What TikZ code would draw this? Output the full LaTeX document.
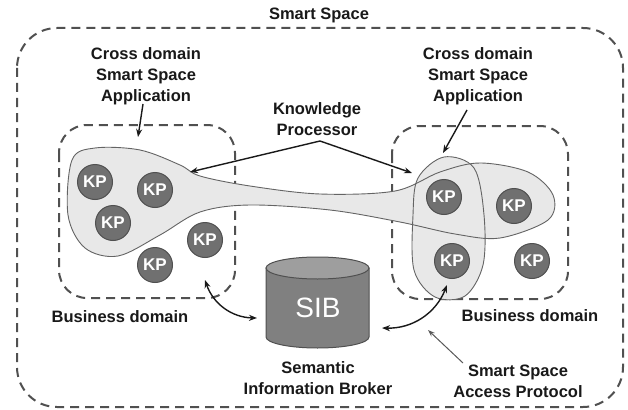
\documentclass[tikz,border=0pt]{standalone}
\usepackage{fontspec}
\setmainfont{Liberation Sans}
\usetikzlibrary{arrows.meta}
\definecolor{kpfill}{RGB}{112,112,112}
\definecolor{kpline}{RGB}{80,80,80}
\definecolor{blobfill}{RGB}{232,232,232}
\definecolor{blobline}{RGB}{100,100,100}
\definecolor{dashcol}{RGB}{80,80,80}
\definecolor{sibbody}{RGB}{128,128,128}
\definecolor{sibtop}{RGB}{158,158,158}
\definecolor{txt}{RGB}{25,25,25}
\begin{document}
\begin{tikzpicture}[x=1pt,y=-1pt,
  domainbox/.style={draw=dashcol,line width=2pt,dash pattern=on 9pt off 6pt,rounded corners=28pt},
  outerbox/.style={draw=dashcol,line width=2pt,dash pattern=on 9pt off 6pt,rounded corners=40pt},
  kp/.style={circle,fill=kpfill,draw=kpline,line width=1pt,minimum size=35pt,inner sep=0pt,text=white,font=\bfseries\fontsize{17}{17}\selectfont},
  lbl/.style={align=center,text=txt,font=\bfseries\fontsize{16.5}{21}\selectfont},
  arr/.style={line width=1.4pt,draw=txt,-{Stealth[length=8pt,width=6pt]}},
  darr/.style={line width=1.4pt,draw=txt,{Stealth[length=8pt,width=6pt]}-{Stealth[length=8pt,width=6pt]}},
  thinarr/.style={line width=1pt,draw=gray!70!black,-{Stealth[length=7pt,width=5pt]}},
  blob/.style={fill=blobfill},
  blobedge/.style={draw=blobline,line width=0.9pt}]
\useasboundingbox (0,0) rectangle (628,409);
\fill[white] (0,0) rectangle (628,409);

% outer smart space
\draw[outerbox] (17,28) rectangle (623,407);
\node[lbl] (title) at (319,15) {Smart Space};

% business domains
\draw[domainbox] (59,125) rectangle (235,298);
\draw[domainbox] (392,126) rectangle (568,299);

% application blobs (fill first, then edges)
\path[blob] plot[smooth cycle, tension=0.55] coordinates {(72,160) (95,148) (140,150) (180,165) (200,176) (250,186) (320,194) (395,191) (440,172) (480,163) (528,172) (553,195) (548,220) (500,238) (455,234) (400,222) (330,210) (250,205) (200,212) (160,235) (118,256) (85,248) (68,215)};
\path[blob] plot[smooth cycle, tension=0.55] coordinates {(444,157) (474,168) (484,215) (483,265) (465,296) (435,297) (414,270) (413,215) (418,178)};
\path[blobedge] plot[smooth cycle, tension=0.55] coordinates {(72,160) (95,148) (140,150) (180,165) (200,176) (250,186) (320,194) (395,191) (440,172) (480,163) (528,172) (553,195) (548,220) (500,238) (455,234) (400,222) (330,210) (250,205) (200,212) (160,235) (118,256) (85,248) (68,215)};
\path[blobedge] plot[smooth cycle, tension=0.55] coordinates {(444,157) (474,168) (484,215) (483,265) (465,296) (435,297) (414,270) (413,215) (418,178)};

% KPs
\node[kp] (kp1) at (95,182) {KP};
\node[kp] (kp2) at (155,190) {KP};
\node[kp] (kp3) at (113,223) {KP};
\node[kp] (kp4) at (205,240) {KP};
\node[kp] (kp5) at (155,265) {KP};
\node[kp] (kp6) at (444,197) {KP};
\node[kp] (kp7) at (514,206) {KP};
\node[kp] (kp8) at (452,261) {KP};
\node[kp] (kp9) at (532,261) {KP};

% SIB cylinder
\filldraw[fill=sibbody,draw=kpline,line width=1pt] (266,268) -- (266,337) arc[start angle=180,end angle=360,x radius=51.5pt,y radius=11pt] -- (369,268) -- cycle;
\filldraw[fill=sibtop,draw=kpline,line width=1pt] (317.5,268) ellipse [x radius=51.5pt, y radius=11pt];
\node[text=white,font=\fontsize{28}{28}\selectfont] (sib) at (318,308) {SIB};
\node[lbl] (sibl) at (318,378) {Semantic\\Information Broker};

% labels
\node[lbl] (cdl) at (146,76) {Cross domain\\Smart Space\\Application};
\node[lbl] (cdr) at (478,76) {Cross domain\\Smart Space\\Application};
\node[lbl] (kpl) at (317,119) {Knowledge\\Processor};
\node[lbl] (bdl) at (120,317) {Business domain};
\node[lbl] (bdr) at (530,316) {Business domain};
\node[lbl] (ssap) at (518,381) {Smart Space\\Access Protocol};

% connector end points
\coordinate (cdlTail) at (143,104);
\coordinate (cdlTip) at (138,137);
\coordinate (cdrTail) at (467,110);
\coordinate (cdrTip) at (443,153);
\coordinate (kpApex) at (320,141);
\coordinate (kpTipL) at (190,172);
\coordinate (kpTipR) at (412,173);
\coordinate (lEnd) at (205,280);
\coordinate (sibL) at (257,318);
\coordinate (rEnd) at (447,285);
\coordinate (sibR) at (382,328);
\coordinate (ssapTail) at (463,363);
\coordinate (ssapTip) at (428,330);

% connectors
\draw[arr] (cdlTail) -- (cdlTip);
\draw[arr] (cdrTail) -- (cdrTip);
\draw[arr] (kpApex) -- (kpTipL);
\draw[arr] (kpApex) -- (kpTipR);
\draw[darr] (lEnd) to[bend right=35] (sibL);
\draw[darr] (rEnd) to[bend left=35] (sibR);
\draw[thinarr] (ssapTail) -- (ssapTip);
\end{tikzpicture}
\end{document}
